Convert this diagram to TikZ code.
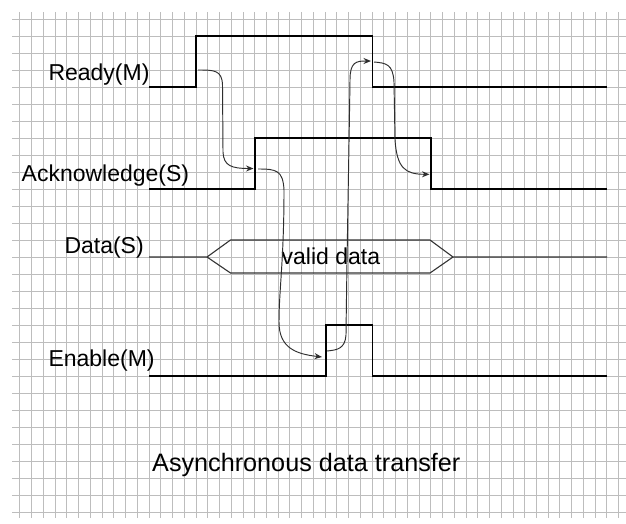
\documentclass[tikz,border=0pt]{standalone}
\usepackage{fontspec}
\setmainfont{Liberation Sans}
\usetikzlibrary{arrows.meta}
\begin{document}
\begin{tikzpicture}[x=1pt,y=-1pt,
  gridline/.style={draw=black!26, line width=0.9pt},
  wave/.style={draw=black, line width=1.3pt, line join=miter},
  bus/.style={draw=black!80, line width=1.1pt},
  cause/.style={draw=black!82, line width=0.95pt, -{Stealth[length=7.5pt,width=6pt]}},
  sig/.style={font=\fontsize{23}{27}\selectfont, inner sep=0pt, anchor=base west},
]
\useasboundingbox (0,0) rectangle (626,523);
\fill[white] (0,0) rectangle (626,523);

% graph-paper background
\foreach \k in {0,...,51}
  \draw[gridline] ({19.9+11.74*\k},12) -- ({19.9+11.74*\k},518);
\foreach \j in {0,...,29}
  \draw[gridline] (12,{19+17*\j}) -- (626,{19+17*\j});

% signal names
\node[sig] (lready) at (48.3,80)  {Ready(M)};
\node[sig] (lack)   at (21.5,181.5) {Acknowledge(S)};
\node[sig] (ldata)  at (64.3,253.3) {Data(S)};
\node[sig] (lenab)  at (48.3,366.7) {Enable(M)};

% Ready (master)
\coordinate (rA) at (149,87);
\coordinate (rRise) at (196,87);
\coordinate (rHi) at (196,36);
\coordinate (rFallT) at (372.3,36);
\coordinate (rFall) at (372.3,87);
\coordinate (rEnd) at (607,87);
\draw[wave] (rA) -- (rRise) -- (rHi) -- (rFallT) -- (rFall) -- (rEnd);

% Acknowledge (slave)
\coordinate (aA) at (149,189);
\coordinate (aRise) at (255,189);
\coordinate (aHi) at (255,138);
\coordinate (aFallT) at (431,138);
\coordinate (aFall) at (431,189);
\coordinate (aEnd) at (607,189);
\draw[wave] (aA) -- (aRise) -- (aHi) -- (aFallT) -- (aFall) -- (aEnd);

% Data bus with the valid window
\coordinate (dA) at (149,257);
\coordinate (dL) at (207,257);
\coordinate (dLT) at (230.5,240);
\coordinate (dLB) at (230.5,273);
\coordinate (dRT) at (430,240);
\coordinate (dRB) at (430,273);
\coordinate (dR) at (453,257);
\coordinate (dEnd) at (607,257);
\draw[bus] (dA) -- (dL) -- (dLT) -- (dRT) -- (dR) -- (dEnd);
\draw[bus] (dL) -- (dLB) -- (dRB) -- (dR);
\node[sig] (valid) at (281.5,264) {valid data};

% Enable (master)
\coordinate (eA) at (149,376);
\coordinate (eRise) at (326,376);
\coordinate (eHi) at (326,325);
\coordinate (eFallT) at (372.3,325);
\coordinate (eFall) at (372.3,376);
\coordinate (eEnd) at (607,376);
\draw[wave] (eA) -- (eRise) -- (eHi) -- (eFallT) -- (eFall) -- (eEnd);

% handshake causality arrows
\coordinate (c1s) at (198,70);
\coordinate (c1e) at (253.5,168.5);
\draw[cause] (c1s) .. controls (214,70) and (222,70) .. (222.5,85)
  -- (223,152) .. controls (223.5,166) and (232,168.5) .. (c1e);

\coordinate (c2s) at (258,169);
\coordinate (c2e) at (322,357);
\draw[cause] (c2s) .. controls (276,169) and (283,170) .. (284,190)
  .. controls (284,260) and (279,290) .. (279,322)
  .. controls (279,348) and (296,354) .. (c2e);

\coordinate (c3s) at (327,351);
\coordinate (c3e) at (371,61);
\draw[cause] (c3s) .. controls (337,350) and (345,349) .. (346,335)
  .. controls (347,250) and (349,150) .. (350,80)
  .. controls (350,62) and (356,61) .. (c3e);

\coordinate (c4s) at (374,62);
\coordinate (c4e) at (429.5,174.3);
\draw[cause] (c4s) .. controls (386,63) and (393,64) .. (394,82)
  -- (395,140) .. controls (397,168) and (405,174.3) .. (c4e);

% caption
\node[sig, font=\fontsize{25.2}{30}\selectfont] (title) at (152,471) {Asynchronous data transfer};
\end{tikzpicture}
\end{document}
